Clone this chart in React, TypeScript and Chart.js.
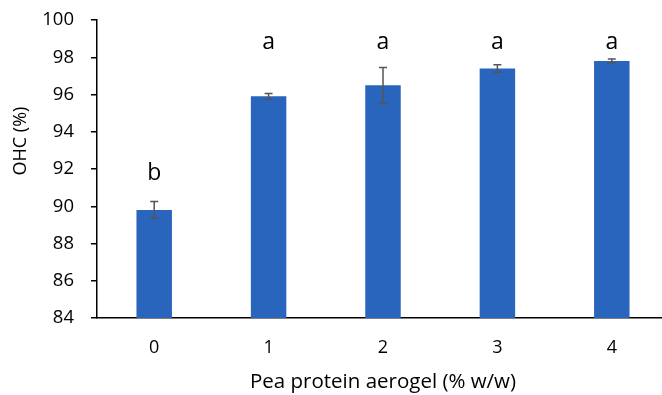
import React, { useEffect, useRef } from "react";
import { Chart, registerables } from "chart.js";

Chart.register(...registerables);

const categories = ["0", "1", "2", "3", "4"];
const ohcValues = [89.8, 95.9, 96.5, 97.4, 97.8];
const ohcErrors = [0.45, 0.15, 0.95, 0.2, 0.1];
const letters = ["b", "a", "a", "a", "a"];
const letterLevels = [91.75, 98.8, 98.8, 98.8, 98.8];
const yTicks = [84, 86, 88, 90, 92, 94, 96, 98, 100];
const yTitle = "OHC (%)";
const xTitle = "Pea protein aerogel (% w/w)";

const FONT = "'Open Sans', sans-serif";

const annotationPlugin = {
  id: "errAndLetters",
  afterDatasetsDraw(chart: any) {
    const ctx = chart.ctx;
    const x = chart.scales.x;
    const y = chart.scales.y;
    ctx.save();
    ohcValues.forEach((v, i) => {
      const px = x.getPixelForValue(i);
      const top = y.getPixelForValue(v + ohcErrors[i]);
      const bot = y.getPixelForValue(v - ohcErrors[i]);
      ctx.strokeStyle = "#555555";
      ctx.lineWidth = 1.5;
      ctx.beginPath();
      ctx.moveTo(px, top);
      ctx.lineTo(px, bot);
      ctx.moveTo(px - 4, top);
      ctx.lineTo(px + 4, top);
      ctx.moveTo(px - 4, bot);
      ctx.lineTo(px + 4, bot);
      ctx.stroke();
      ctx.fillStyle = "#000";
      ctx.font = `23px ${FONT}`;
      ctx.textAlign = "center";
      ctx.textBaseline = "middle";
      ctx.fillText(letters[i], px, y.getPixelForValue(letterLevels[i]));
    });
    // y axis title
    ctx.translate(21, y.getPixelForValue(93.5));
    ctx.rotate(-Math.PI / 2);
    ctx.font = `18px ${FONT}`;
    ctx.textAlign = "center";
    ctx.textBaseline = "middle";
    ctx.fillText(yTitle, 0, 0);
    ctx.restore();
  },
};

export default function App() {
  const ref = useRef<HTMLCanvasElement | null>(null);
  useEffect(() => {
    if (!ref.current) return;
    const chart = new Chart(ref.current, {
      type: "bar",
      data: {
        labels: categories,
        datasets: [
          {
            data: ohcValues,
            backgroundColor: "#2964BD",
            borderWidth: 0,
            barPercentage: 0.31,
            categoryPercentage: 1,
          },
        ],
      },
      options: {
        animation: false,
        responsive: false,
        maintainAspectRatio: false,
        layout: { padding: { top: 20, right: 3, left: 0, bottom: 0 } },
        plugins: { legend: { display: false }, tooltip: { enabled: false } },
        scales: {
          x: {
            afterFit: (s: any) => {
              s.height = 77;
              s.paddingLeft = 0;
              s.paddingRight = 0;
            },
            grid: { display: true, drawOnChartArea: false, drawTicks: false },
            border: { display: true, color: "#000", width: 1.5 },
            ticks: { color: "#000", font: { family: FONT, size: 18 }, padding: 19 },
            title: {
              display: true,
              text: xTitle,
              color: "#000",
              font: { family: FONT, size: 20.5 },
              padding: { top: 0, bottom: 1 },
            },
          },
          y: {
            min: 84,
            max: 100,
            afterFit: (s: any) => {
              s.width = 97;
              s.paddingTop = 0;
              s.paddingBottom = 0;
            },
            afterBuildTicks: (s: any) => {
              s.ticks = yTicks.map((v) => ({ value: v }));
            },
            grid: { drawOnChartArea: false, drawTicks: true, tickLength: 6, color: "#000", lineWidth: 1.5 },
            border: { display: true, color: "#000", width: 1.5 },
            ticks: { color: "#000", font: { family: FONT, size: 18.5 }, padding: 17 },
            title: { display: false },
          },
        },
      },
      plugins: [annotationPlugin],
    });
    return () => chart.destroy();
  }, []);
  return (
    <div style={{ position: "absolute", left: 0, top: 0, width: 672, height: 395, background: "#fff" }}>
      <canvas ref={ref} width={672} height={395} style={{ width: 672, height: 395 }} />
    </div>
  );
}
